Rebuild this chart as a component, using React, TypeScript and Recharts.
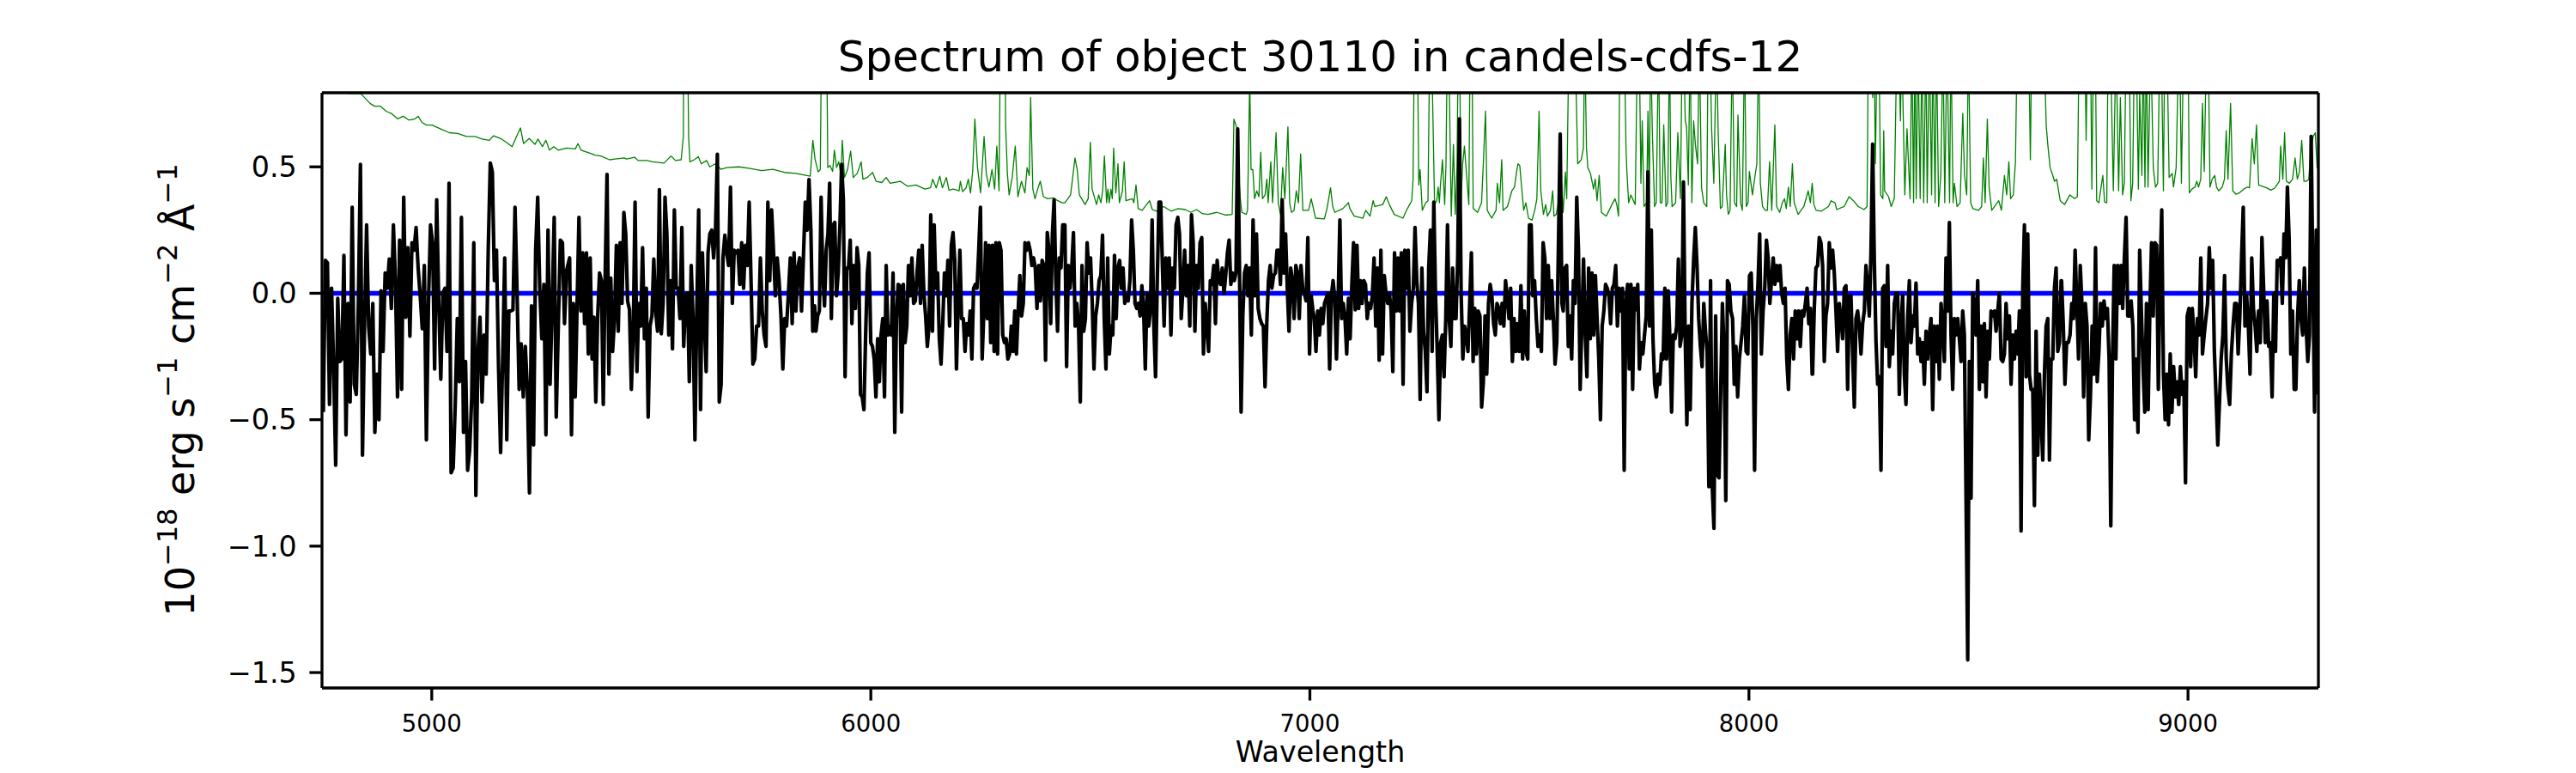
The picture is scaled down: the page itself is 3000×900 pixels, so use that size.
import { LineChart, Line, XAxis, YAxis } from "recharts";

const X_RANGE = [4750, 9297];
const Y_RANGE = [-1.561, 0.793];
const X_TICKS = [5000, 6000, 7000, 8000, 9000];
const Y_TICKS = [-1.5, -1.0, -0.5, 0.0, 0.5];

const FONT = "DejaVu Sans, Liberation Sans, sans-serif";

const FLUX_SPANS = [
  [4753, 5307],
  [5314, 5872],
  [5875, 6437],
  [6442, 7007],
  [7010, 7574],
  [7577, 8144],
  [8145, 8711],
  [8712, 9296],
];

const FLUX_A = [
  -0.47, 0.13, 0.12, -0.44, 0.02, -0.29, -0.68, -0.02, -0.27, -0.26, 0.15, -0.56, -0.04, -0.43, 0.34, -0.36,
  -0.4, -0.04, 0.51, -0.64, -0.13, 0.27, -0.13, -0.24, -0.04, -0.55, -0.32, -0.5, 0.01, -0.23, 0.08, 0.02,
  0.135, -0.06, 0.27, 0.05, -0.41, 0.21, -0.38, 0.38, -0.095, 0.18, -0.17, 0.2, 0.17, 0.26, 0.1, -0.01,
  -0.14, 0.11, -0.58, -0.04, 0.27, 0.2, -0.3, 0.37, -0.04, -0.34, 0.0, 0.02, -0.23, 0.435, -0.71, -0.69,
  -0.44, -0.1, -0.35, 0.3, -0.55, -0.27, -0.7, -0.62, -0.41, 0.2, -0.8, -0.24, -0.095, -0.43, -0.165, -0.32,
  0.17, 0.515, 0.48, 0.05, 0.17, -0.29, -0.63, -0.26, 0.14, -0.58, -0.07, -0.07, -0.065, 0.34, 0.0, -0.38,
  -0.2, -0.41, -0.21, -0.38, -0.79, -0.05, -0.6, 0.17, 0.38, 0.02, -0.18, 0.035, -0.56, 0.25, -0.36, -0.05,
  0.3, -0.49, -0.13, 0.21, 0.2, -0.12, 0.09,
];

const FLUX_B = [
  0.14, -0.56, -0.04, -0.41, -0.04, 0.3, -0.07, 0.16, -0.12, 0.16, -0.24, 0.14, -0.26, -0.095, -0.43, -0.09,
  0.08, 0.05, -0.44, 0.07, 0.47, -0.32, 0.06, -0.23, -0.1, 0.19, -0.15, 0.2, -0.04, 0.32, 0.235, -0.03,
  -0.065, -0.38, -0.165, 0.36, -0.31, -0.04, -0.13, 0.18, -0.18, 0.02, -0.49, -0.13, -0.09, 0.135, -0.07, -0.15,
  0.41, -0.16, -0.04, 0.38, 0.235, -0.165, 0.05, -0.22, 0.33, 0.02, 0.02, -0.1, 0.26, -0.21, -0.02, 0.0,
  -0.35, 0.11, -0.1, -0.58, -0.06, 0.33, -0.46, 0.16, -0.1, -0.31, 0.16, 0.235, 0.25, 0.14, 0.25, 0.55,
  -0.43, -0.36, 0.14, 0.23, 0.16, 0.11, 0.42, -0.04, 0.17, 0.16, 0.17, 0.035, 0.2, 0.02, 0.19, 0.11,
  0.36, 0.05, -0.28, -0.26, -0.13, -0.13, 0.14, -0.07, -0.165, -0.21, 0.36, 0.05, 0.33, 0.17, -0.01, 0.14,
  0.05, -0.09, -0.3, -0.1, -0.13, 0.0, 0.14, -0.12, 0.16, -0.07, 0.1, 0.14, -0.07, 0.14, 0.36, 0.25,
  0.45, 0.25, -0.15, -0.05,
];

const FLUX_C = [
  -0.15, -0.09, -0.07, 0.38, 0.08, -0.05, 0.17, 0.235, 0.435, -0.1, 0.27, 0.28, -0.01, 0.08, 0.27, 0.51,
  0.37, -0.33, 0.1, 0.1, 0.21, -0.12, 0.11, -0.06, 0.18, 0.11, -0.4, -0.41, -0.46, -0.165, 0.08, 0.16,
  -0.195, -0.21, -0.26, -0.41, -0.18, -0.35, -0.165, -0.1, -0.41, 0.11, -0.165, -0.13, -0.165, 0.08, -0.55, -0.1,
  0.035, 0.03, -0.47, 0.035, -0.195, -0.13, 0.11, -0.01, 0.14, -0.04, -0.03, 0.08, 0.17, -0.04, 0.19, 0.0,
  -0.09, -0.21, -0.13, 0.31, -0.15, 0.27, 0.02, 0.08, -0.18, -0.28, -0.12, 0.08, -0.01, 0.13, -0.13, 0.19,
  0.24, 0.13, -0.3, -0.04, 0.17, -0.1, -0.1, -0.23, -0.12, -0.165, -0.07, -0.26, 0.02, 0.035, 0.02, 0.17,
  0.34, -0.26, -0.07, 0.2, -0.1, 0.19, -0.195, 0.19, -0.23, 0.2, -0.24, 0.2, 0.17, -0.165, -0.195, -0.18,
  -0.26, -0.24, -0.13, -0.23, -0.07, -0.24, -0.07, 0.07, -0.09, -0.04, 0.2, 0.17, 0.2, 0.17, 0.11, 0.14,
  0.1, -0.06, 0.11, -0.03, 0.13, 0.11, -0.265, 0.24, 0.17, -0.12, 0.235, 0.37, 0.05, -0.15, 0.14, 0.1,
  0.27,
];

const FLUX_D = [
  0.27, -0.29, 0.11, 0.02, 0.1, 0.24, -0.13, -0.04, -0.13, -0.43, 0.11, -0.15, -0.1, 0.2, 0.08, 0.14,
  -0.04, -0.3, -0.09, -0.04, 0.05, 0.07, 0.23, -0.1, -0.3, 0.14, -0.24, -0.13, -0.165, 0.15, -0.1, 0.1,
  0.13, 0.02, 0.1, -0.04, -0.01, -0.03, 0.05, 0.29, 0.17, -0.04, -0.06, -0.04, -0.09, 0.03, -0.06, -0.3,
  0.0, -0.13, -0.065, 0.29, -0.13, -0.33, 0.05, 0.36, 0.36, 0.11, -0.13, 0.14, 0.02, 0.14, -0.165, 0.1,
  0.02, 0.27, 0.3, 0.235, -0.1, 0.02, 0.17, -0.01, 0.11, -0.13, 0.31, 0.2, -0.15, 0.11, 0.02, 0.2,
  0.22, -0.24, -0.04, -0.13, -0.23, 0.05, 0.035, 0.11, -0.12, 0.13, 0.05, 0.035, 0.1, 0.0, 0.07, 0.16,
  0.21, 0.035, 0.08, 0.05, 0.08, 0.65, 0.13, -0.47, -0.09, 0.08, 0.11, -0.01, 0.1, -0.165, 0.29, -0.01,
  0.235, -0.06, -0.1, -0.12, -0.13, -0.37, -0.12, 0.05, 0.11, 0.02, 0.07, 0.08, 0.17, 0.17, 0.035, 0.37,
  0.08, 0.235, 0.02, -0.15, 0.1, 0.05, -0.1, 0.11, 0.08, -0.1, 0.11, 0.02, 0.0, -0.03, 0.22, -0.24,
  -0.01, -0.07,
];

const FLUX_E = [
  -0.1, -0.23, -0.07, -0.165, -0.06, -0.12, -0.04, -0.02, 0.0, -0.3, -0.01, 0.05, -0.02, -0.26, -0.02, 0.29,
  -0.1, -0.04, -0.1, -0.24, -0.02, -0.18, 0.035, 0.2, -0.065, 0.19, -0.06, 0.05, -0.04, 0.05, 0.035, -0.1,
  -0.04, -0.06, -0.01, 0.14, -0.13, 0.1, -0.265, 0.17, -0.24, 0.07, 0.0, -0.04, 0.0, -0.07, -0.31, 0.16,
  -0.07, 0.14, -0.07, 0.16, -0.36, 0.17, 0.02, 0.17, -0.15, -0.04, 0.02, 0.26, 0.05, -0.04, -0.42, 0.1,
  -0.15, -0.23, -0.39, 0.1, 0.25, -0.23, 0.36, -0.01, -0.23, -0.5, -0.195, -0.165, -0.33, -0.1, 0.27, -0.1,
  -0.21, 0.1, -0.1, -0.1, 0.14, 0.69, 0.0, -0.26, -0.13, -0.165, -0.23, -0.04, 0.16, -0.27, -0.06, -0.24,
  -0.07, -0.09, -0.45, -0.35, -0.09, -0.32, -0.04, 0.035, -0.01, -0.12, -0.165, -0.04, -0.06, -0.12, -0.04, -0.13,
  0.05, -0.01, -0.1, 0.02, -0.27, -0.1, -0.23, -0.12, -0.23, 0.03, -0.26, -0.07, -0.23, -0.26, 0.27, 0.27,
  -0.01, 0.05, -0.1, -0.21, -0.165, -0.23, 0.2, 0.14, -0.1, 0.11, -0.1, 0.05, -0.1, -0.28, -0.195, 0.2,
  0.63, -0.04,
];

const FLUX_F = [
  -0.07, 0.1, 0.11, -0.21, -0.09, -0.26, 0.05, -0.04, 0.38, 0.17, -0.38, -0.12, 0.135, -0.165, -0.33, 0.1,
  -0.18, 0.08, -0.165, 0.07, -0.1, -0.26, -0.5, -0.13, -0.07, 0.035, 0.02, -0.01, -0.12, 0.02, 0.035, 0.11,
  -0.13, 0.02, -0.07, 0.02, -0.7, -0.04, 0.035, -0.3, 0.035, -0.38, 0.02, -0.065, 0.035, -0.3, -0.195, -0.24,
  -0.165, -0.09, 0.48, -0.13, 0.25, -0.18, -0.36, -0.41, -0.32, -0.36, -0.24, -0.26, 0.02, -0.26, 0.01, -0.18,
  -0.47, -0.165, -0.18, -0.13, 0.135, -0.21, -0.165, 0.44, -0.165, -0.52, -0.13, -0.46, -0.04, 0.13, 0.26, 0.11,
  -0.1, -0.21, -0.29, -0.04, -0.15, -0.23, -0.765, 0.05, -0.765, -0.93, -0.09, -0.72, -0.73, -0.38, -0.04, -0.23,
  -0.82, 0.05, 0.035, -0.07, -0.1, -0.36, -0.21, -0.41, -0.26, -0.195, -0.13, -0.01, -0.23, -0.24, 0.07, 0.08,
  -0.13, -0.7, -0.1, 0.035, 0.235, -0.24, -0.07, 0.02, 0.21, 0.14, -0.04, 0.05, 0.14, 0.035, 0.11, 0.05,
  0.11, 0.0, -0.04, 0.02, -0.26, -0.38, -0.165, -0.1, -0.26, -0.07, -0.18, -0.07, -0.21, -0.07, -0.09, -0.04,
  0.02, -0.12, -0.06, -0.32,
];

const FLUX_G = [
  -0.32, -0.06, 0.1, 0.11, 0.22, 0.2, 0.11, -0.27, -0.09, -0.04, 0.2, 0.1, 0.17, 0.08, -0.07, -0.23,
  -0.04, -0.1, -0.18, 0.02, 0.03, -0.38, -0.01, -0.01, -0.24, -0.45, -0.1, -0.07, -0.13, -0.24, -0.12, -0.07,
  0.11, 0.02, -0.09, 0.16, 0.59, 0.13, -0.19, -0.36, -0.33, -0.7, 0.02, 0.03, -0.21, 0.11, -0.29, -0.15,
  -0.24, -0.04, 0.0, 0.0, -0.4, -0.13, -0.01, -0.32, -0.44, -0.1, 0.05, -0.195, -0.09, -0.13, 0.04, -0.24,
  -0.18, -0.27, -0.195, -0.36, -0.15, -0.26, -0.165, -0.1, -0.46, -0.13, -0.27, -0.13, -0.34, -0.04, -0.13, -0.27,
  0.14, -0.07, 0.28, -0.165, -0.38, -0.1, -0.165, -0.1, -0.18, -0.27, -0.07, -0.165, -0.81, -1.45, -0.27, -0.81,
  0.0, -0.04, -0.165, 0.05, -0.38, -0.13, -0.35, -0.12, -0.41, -0.15, -0.26, -0.07, -0.09, -0.07, -0.15, -0.07,
  0.0, -0.26, -0.27, -0.24, -0.04, -0.18, -0.09, -0.36, -0.165, -0.26, -0.15, -0.24, -0.07, -0.94, 0.02, 0.27,
  -0.33, 0.235, -0.32, -0.38, -0.38, -0.84, -0.15, -0.64, -0.32, -0.49, -0.66, -0.32, -0.13, -0.1, -0.66, -0.26,
  -0.26, 0.02, 0.1, -0.23, -0.195, 0.05,
];

const FLUX_H = [
  0.05, -0.12, -0.36, -0.195, -0.195, -0.165, -0.04, -0.1, 0.17, -0.04, -0.26, 0.11, -0.04, -0.41, -0.04, -0.13,
  -0.58, -0.41, -0.13, -0.32, 0.18, -0.35, -0.23, -0.04, -0.13, -0.03, -0.1, -0.06, -0.26, -0.92, -0.26, 0.11,
  -0.26, 0.11, -0.04, 0.11, -0.06, 0.14, 0.3, -0.09, -0.09, -0.03, -0.13, -0.5, -0.26, -0.55, 0.17, -0.07,
  -0.29, -0.47, -0.04, -0.46, -0.07, 0.2, -0.09, 0.2, 0.19, -0.38, 0.08, 0.33, -0.32, -0.5, -0.32, -0.52,
  -0.24, -0.47, -0.29, -0.41, -0.35, -0.44, -0.29, -0.4, -0.35, -0.75, -0.09, -0.06, -0.29, -0.06, -0.165, -0.33,
  -0.1, -0.165, 0.14, -0.24, -0.165, -0.1, -0.04, 0.18, 0.02, 0.13, -0.23, -0.41, -0.6, -0.43, -0.26, -0.165,
  0.07, -0.26, -0.38, -0.44, -0.24, -0.13, -0.04, -0.04, -0.24, -0.09, 0.14, 0.34, -0.13, -0.01, -0.13, -0.32,
  0.14, -0.06, -0.13, -0.23, -0.07, -0.195, 0.22, 0.02, -0.195, -0.03, -0.21, -0.195, -0.41, 0.0, -0.23, 0.13,
  0.11, 0.14, -0.04, 0.235, 0.14, 0.42, 0.22, -0.24, -0.07, -0.38, -0.38, -0.09, 0.05, -0.1, -0.165, 0.1,
  -0.13, -0.27, -0.165, 0.62, 0.07, -0.47, 0.25, -0.4,
];

// error spectrum (green) as [wavelength, value] pairs; values above the top of the axes are clipped
const ERR_A = [
  [4750, 0.95], [4805, 0.85], [4811, 0.79], [4838, 0.79], [4860, 0.75], [4870, 0.74], [4883, 0.74], [4896, 0.72],
  [4909, 0.71], [4922, 0.69], [4935, 0.7], [4948, 0.685], [4962, 0.69], [4969, 0.7], [4978, 0.675], [4988, 0.665],
  [5001, 0.665], [5020, 0.65], [5040, 0.635], [5059, 0.632], [5079, 0.62], [5098, 0.62], [5115, 0.61], [5131, 0.605],
  [5141, 0.623], [5157, 0.612], [5170, 0.597], [5183, 0.58], [5193, 0.62], [5202, 0.654], [5209, 0.592], [5222, 0.612],
  [5235, 0.589], [5242, 0.61], [5252, 0.58], [5260, 0.605], [5268, 0.566], [5278, 0.58], [5288, 0.566], [5307, 0.574],
];

const ERR_B = [
  [5327, 0.571], [5333, 0.592], [5340, 0.566], [5359, 0.555], [5372, 0.546], [5385, 0.543], [5405, 0.528], [5418, 0.531],
  [5438, 0.535], [5444, 0.531], [5462, 0.538], [5470, 0.525], [5490, 0.525], [5503, 0.52], [5529, 0.515], [5545, 0.543],
  [5555, 0.525], [5568, 0.528], [5573, 0.62], [5575, 1.3], [5581, 1.3], [5585, 0.62], [5588, 0.52], [5598, 0.528],
  [5607, 0.54], [5614, 0.512], [5626, 0.525], [5633, 0.5], [5646, 0.512], [5659, 0.49], [5672, 0.497], [5699, 0.5],
  [5725, 0.494], [5751, 0.485], [5777, 0.49], [5803, 0.478], [5829, 0.474], [5862, 0.463], [5868, 0.605], [5873, 0.53],
  [5880, 0.48], [5885, 0.49],
];

const ERR_C = [
  [5889, 1.3], [5898, 1.3], [5902, 0.497], [5907, 0.505], [5913, 0.482], [5917, 0.566], [5922, 0.497], [5927, 0.52],
  [5932, 0.466], [5935, 0.605], [5940, 0.458], [5947, 0.489], [5954, 0.562], [5960, 0.458], [5969, 0.474], [5978, 0.52],
  [5982, 0.451], [5992, 0.458], [6004, 0.478], [6012, 0.443], [6025, 0.438], [6035, 0.458], [6044, 0.435], [6067, 0.443],
  [6084, 0.423], [6103, 0.428], [6123, 0.412], [6136, 0.417], [6141, 0.451], [6149, 0.417], [6157, 0.463], [6163, 0.417],
  [6172, 0.458], [6178, 0.408], [6188, 0.412], [6201, 0.405], [6204, 0.443], [6209, 0.402], [6217, 0.417], [6222, 0.451],
  [6227, 0.397], [6232, 0.482], [6237, 0.689], [6243, 0.497], [6250, 0.397], [6258, 0.62], [6263, 0.474], [6269, 0.42],
  [6276, 0.489], [6282, 0.412], [6287, 0.582], [6292, 0.405], [6297, 1.4], [6304, 1.4], [6307, 0.666], [6311, 0.474],
  [6315, 0.389], [6322, 0.458], [6329, 0.582], [6335, 0.382], [6343, 0.443], [6351, 0.397], [6356, 0.497], [6361, 0.466],
  [6364, 0.774], [6369, 0.412], [6374, 0.374], [6380, 0.412], [6386, 0.443], [6393, 0.382], [6403, 0.374], [6416, 0.377],
  [6426, 0.366], [6436, 0.358],
];

const ERR_D = [
  [6442, 0.358], [6455, 0.389], [6465, 0.535], [6470, 0.489], [6475, 0.389], [6488, 0.351], [6495, 0.374], [6500, 0.597],
  [6504, 0.412], [6514, 0.351], [6519, 0.389], [6524, 0.358], [6528, 0.405], [6532, 0.543], [6537, 0.358], [6540, 0.412],
  [6543, 0.358], [6547, 0.412], [6550, 0.374], [6553, 0.574], [6558, 0.397], [6563, 0.512], [6566, 0.358], [6573, 0.405],
  [6577, 0.52], [6581, 0.366], [6596, 0.374], [6599, 0.358], [6604, 0.428], [6609, 0.335], [6618, 0.328], [6635, 0.366],
  [6641, 0.331], [6651, 0.325], [6667, 0.343], [6684, 0.325], [6700, 0.335], [6716, 0.331], [6729, 0.32], [6742, 0.331],
  [6755, 0.315], [6768, 0.312], [6788, 0.32], [6808, 0.309], [6823, 0.312], [6827, 0.689], [6834, 0.651], [6837, 0.489],
  [6842, 0.366], [6845, 0.32], [6855, 0.312], [6858, 0.328], [6863, 0.85], [6866, 0.489], [6870, 0.489], [6874, 0.374],
  [6879, 0.405], [6884, 0.382], [6888, 0.558], [6892, 0.374], [6898, 0.389], [6902, 0.451], [6905, 0.358], [6911, 0.52],
  [6915, 0.358], [6923, 0.635], [6928, 0.358], [6933, 0.312], [6938, 0.497], [6943, 0.374], [6950, 0.658], [6954, 0.358],
  [6958, 0.32], [6964, 0.328], [6969, 0.405], [6974, 0.358], [6979, 0.551], [6984, 0.328], [6997, 0.328], [7003, 0.374],
  [7007, 0.343],
];

const ERR_E = [
  [7013, 0.297], [7033, 0.294], [7039, 0.335], [7047, 0.417], [7052, 0.343], [7057, 0.32], [7075, 0.335], [7088, 0.358],
  [7091, 0.335], [7101, 0.305], [7121, 0.297], [7127, 0.328], [7137, 0.305], [7144, 0.366], [7148, 0.343], [7166, 0.351],
  [7174, 0.382], [7181, 0.351], [7192, 0.312], [7212, 0.297], [7220, 0.328], [7232, 0.366], [7235, 0.451], [7238, 1.0],
  [7245, 1.0], [7248, 0.428], [7251, 0.489], [7256, 0.328], [7264, 0.358], [7269, 0.366], [7273, 1.0], [7277, 1.0],
  [7281, 0.628], [7284, 0.351], [7289, 0.366], [7292, 0.42], [7295, 0.358], [7297, 0.42], [7302, 0.528], [7307, 0.351],
  [7310, 0.512], [7313, 1.0], [7316, 1.0], [7322, 0.305], [7327, 0.589], [7331, 0.312], [7335, 0.497], [7338, 1.0],
  [7341, 1.0], [7344, 0.358], [7348, 0.512], [7352, 0.582], [7355, 0.512], [7362, 0.351], [7365, 1.0], [7369, 1.0],
  [7372, 0.335], [7382, 0.32], [7391, 0.358], [7395, 0.512], [7400, 0.72], [7404, 0.328], [7414, 0.297], [7424, 0.328],
  [7427, 0.435], [7432, 0.358], [7437, 0.528], [7440, 0.328], [7450, 0.343], [7460, 0.405], [7466, 0.42], [7471, 0.482],
  [7474, 0.512], [7478, 0.505], [7483, 0.405], [7487, 0.328], [7492, 0.358], [7498, 0.297], [7506, 0.289], [7513, 0.335],
  [7517, 0.374], [7522, 0.72], [7526, 0.405], [7532, 0.312], [7537, 0.351], [7541, 0.305], [7548, 0.328], [7553, 0.405],
  [7556, 0.305], [7561, 0.312], [7567, 0.366], [7572, 0.466],
];

const ERR_F = [
  [7577, 0.32], [7582, 0.48], [7585, 0.374], [7590, 1.0], [7604, 1.0], [7610, 0.512], [7618, 0.528], [7623, 0.574],
  [7626, 1.0], [7630, 0.574], [7633, 0.497], [7639, 0.474], [7646, 0.412], [7650, 0.451], [7654, 0.366], [7659, 0.466],
  [7664, 0.32], [7675, 0.305], [7688, 0.351], [7695, 0.374], [7699, 0.351], [7703, 0.305], [7706, 1.0], [7716, 1.0],
  [7720, 0.574], [7722, 0.482], [7726, 0.358], [7731, 0.389], [7741, 0.351], [7746, 1.0], [7750, 1.0], [7754, 0.435],
  [7757, 0.682], [7761, 0.343], [7767, 0.358], [7770, 0.72], [7773, 0.358], [7776, 1.0], [7780, 0.635], [7785, 0.343],
  [7789, 0.358], [7794, 1.0], [7798, 0.358], [7802, 0.358], [7806, 0.666], [7811, 0.343], [7815, 0.358], [7819, 1.0],
  [7822, 0.466], [7825, 0.343], [7833, 0.358], [7838, 0.635], [7844, 0.374], [7848, 1.0], [7851, 1.0], [7855, 0.682],
  [7858, 0.658], [7862, 0.428], [7866, 1.0], [7870, 0.358], [7874, 0.682], [7878, 0.589], [7883, 0.512], [7887, 1.0],
  [7892, 0.42], [7897, 0.358], [7904, 0.343], [7907, 1.0], [7911, 1.0], [7915, 0.651], [7920, 0.435], [7926, 1.0],
  [7930, 0.635], [7935, 0.335], [7939, 0.343], [7946, 0.589], [7949, 0.389], [7953, 0.312], [7957, 0.328], [7962, 1.0],
  [7967, 0.358], [7972, 0.343], [7975, 0.705], [7981, 0.358], [7985, 0.328], [7990, 1.0], [7994, 0.343], [7998, 0.358],
  [8001, 0.482], [8008, 0.389], [8014, 0.466], [8018, 0.512], [8022, 1.0], [8026, 0.435], [8031, 0.343], [8037, 0.328],
  [8042, 0.328], [8047, 0.52], [8052, 0.328], [8059, 0.666], [8063, 0.343], [8070, 0.32], [8076, 0.358], [8081, 0.374],
  [8085, 0.335], [8090, 0.42], [8094, 0.343], [8099, 0.512], [8103, 0.358], [8112, 0.312], [8125, 0.343], [8135, 0.405],
  [8140, 0.358], [8144, 0.435], [8148, 0.351],
];

const ERR_G = [
  [8153, 0.328], [8165, 0.325], [8181, 0.343], [8187, 0.366], [8196, 0.358], [8200, 0.331], [8217, 0.343], [8228, 0.382],
  [8238, 0.366], [8249, 0.343], [8262, 0.331], [8269, 0.343], [8272, 1.0], [8279, 1.0], [8282, 0.774], [8285, 1.0],
  [8288, 0.512], [8292, 1.0], [8296, 1.0], [8300, 0.389], [8305, 0.374], [8307, 0.643], [8309, 0.405], [8318, 0.382],
  [8324, 0.343], [8331, 0.374], [8337, 1.0], [8341, 1.0], [8345, 0.682], [8348, 1.0], [8355, 0.389], [8360, 0.651],
  [8367, 0.374], [8371, 1.0], [8375, 0.358], [8378, 1.0], [8381, 0.374], [8385, 1.0], [8390, 0.374], [8394, 1.0],
  [8398, 0.358], [8403, 1.0], [8406, 0.358], [8411, 1.0], [8416, 0.389], [8419, 1.0], [8424, 0.358], [8427, 1.0],
  [8432, 0.343], [8437, 0.466], [8442, 1.0], [8446, 0.358], [8451, 1.0], [8457, 0.358], [8460, 1.0], [8465, 0.358],
  [8468, 0.435], [8474, 0.343], [8481, 0.358], [8487, 0.712], [8491, 0.466], [8496, 0.389], [8500, 1.0], [8505, 0.358],
  [8510, 0.335], [8523, 0.328], [8530, 0.343], [8534, 0.535], [8538, 0.358], [8543, 0.689], [8547, 0.42], [8553, 0.328],
  [8569, 0.366], [8575, 0.328], [8582, 0.466], [8587, 0.389], [8592, 0.52], [8596, 0.374], [8602, 0.389], [8607, 0.52],
  [8611, 1.0], [8637, 1.0], [8641, 0.528], [8644, 1.0], [8672, 1.0], [8677, 0.666], [8681, 0.582], [8686, 0.497],
  [8692, 0.466], [8696, 0.443], [8701, 0.451], [8706, 0.397], [8709, 0.366], [8714, 0.358],
];

const ERR_H = [
  [8719, 0.351], [8731, 0.389], [8742, 0.374], [8748, 0.382], [8752, 1.0], [8765, 1.0], [8768, 0.605], [8771, 1.0],
  [8778, 1.0], [8781, 0.412], [8785, 1.0], [8789, 1.0], [8792, 0.366], [8797, 0.358], [8802, 0.42], [8806, 0.466],
  [8810, 0.361], [8815, 0.358], [8818, 1.0], [8823, 1.0], [8830, 0.405], [8836, 1.0], [8842, 0.405], [8846, 0.774],
  [8851, 0.389], [8855, 0.435], [8859, 1.0], [8866, 1.0], [8870, 0.366], [8874, 0.435], [8878, 1.0], [8882, 1.0],
  [8887, 0.412], [8890, 0.79], [8895, 0.466], [8898, 1.0], [8902, 0.42], [8905, 1.0], [8909, 0.42], [8915, 1.0],
  [8921, 0.497], [8926, 0.42], [8931, 0.435], [8936, 1.0], [8939, 1.0], [8944, 0.405], [8947, 1.0], [8952, 1.0],
  [8957, 0.458], [8964, 0.474], [8967, 0.42], [8973, 0.497], [8979, 1.0], [8981, 1.0], [8985, 0.435], [8990, 1.0],
  [9000, 1.0], [9003, 0.397], [9009, 0.412], [9016, 0.42], [9020, 0.443], [9024, 0.42], [9029, 0.451], [9033, 0.751],
  [9037, 0.482], [9042, 1.0], [9046, 1.0], [9050, 0.42], [9055, 0.451], [9061, 0.466], [9065, 0.42], [9070, 0.405],
  [9078, 0.42], [9083, 0.451], [9087, 0.643], [9091, 0.451], [9097, 0.751], [9102, 0.405], [9109, 0.392], [9117, 0.397],
  [9127, 0.412], [9135, 0.42], [9140, 0.417], [9146, 0.612], [9151, 0.512], [9156, 0.666], [9161, 0.428], [9169, 0.423],
  [9179, 0.417], [9189, 0.408], [9198, 0.417], [9208, 0.443], [9211, 0.582], [9216, 0.451], [9220, 0.635], [9224, 0.443],
  [9231, 0.435], [9238, 0.451], [9244, 0.535], [9249, 0.451], [9254, 0.482], [9259, 0.605], [9264, 0.443], [9270, 0.443],
  [9275, 0.451], [9280, 0.574], [9285, 0.62], [9290, 0.635], [9294, 0.497], [9297, 0.49],
];

// model (blue), flat at zero across the whole range
const MODEL = [
  [4750, 0],
  [9297, 0],
];

const FLUX_SEGMENTS = [FLUX_A, FLUX_B, FLUX_C, FLUX_D, FLUX_E, FLUX_F, FLUX_G, FLUX_H];

const fluxRows = FLUX_SEGMENTS.flatMap((vals, k) => {
  const [a, b] = FLUX_SPANS[k];
  return vals.map((v, i) => ({ wave: a + (i * (b - a)) / (vals.length - 1), value: v }));
});

const errRows = [...ERR_A, ...ERR_B, ...ERR_C, ...ERR_D, ...ERR_E, ...ERR_F, ...ERR_G, ...ERR_H].map(
  ([w, v]) => ({ wave: w, value: v })
);

const modelRows = MODEL.map(([w, v]) => ({ wave: w, value: v }));

const fmtY = (v: number) => v.toFixed(1).replace("-", "\u2212");

const AXIS_LINE = { stroke: "#000", strokeWidth: 3.3 };

export default function App() {
  return (
    <div style={{ position: "absolute", left: 0, top: 0, width: 3000, height: 900, background: "#fff" }}>
      <LineChart width={3000} height={900} margin={{ top: 107, right: 299, bottom: 0, left: 0 }}>
        <XAxis
          xAxisId="b"
          type="number"
          dataKey="wave"
          domain={X_RANGE}
          allowDataOverflow
          ticks={X_TICKS}
          height={99}
          tickSize={14.6}
          tickMargin={17}
          axisLine={AXIS_LINE}
          tickLine={AXIS_LINE}
          tick={{ fontSize: 27.5, fill: "#000", fontFamily: FONT }}
        />
        <XAxis
          xAxisId="t"
          orientation="top"
          type="number"
          dataKey="wave"
          domain={X_RANGE}
          height={1}
          tick={false}
          tickLine={false}
          axisLine={AXIS_LINE}
        />
        <YAxis
          yAxisId="l"
          type="number"
          domain={Y_RANGE}
          allowDataOverflow
          ticks={Y_TICKS}
          width={375}
          tickSize={14.6}
          tickMargin={14.6}
          tickFormatter={fmtY}
          axisLine={AXIS_LINE}
          tickLine={AXIS_LINE}
          tick={{ fontSize: 33.3, fill: "#000", fontFamily: FONT }}
        />
        <YAxis
          yAxisId="r"
          orientation="right"
          type="number"
          domain={Y_RANGE}
          width={1}
          tick={false}
          tickLine={false}
          axisLine={AXIS_LINE}
        />
        <Line
          xAxisId="b"
          yAxisId="l"
          data={modelRows}
          dataKey="value"
          stroke="#0000ff"
          strokeWidth={5.5}
          dot={false}
          isAnimationActive={false}
        />
        <Line
          xAxisId="b"
          yAxisId="l"
          data={errRows}
          dataKey="value"
          stroke="#008000"
          strokeWidth={1.3}
          strokeLinejoin="round"
          dot={false}
          isAnimationActive={false}
        />
        <Line
          xAxisId="b"
          yAxisId="l"
          data={fluxRows}
          dataKey="value"
          stroke="#000"
          strokeWidth={4.2}
          strokeLinejoin="round"
          dot={false}
          isAnimationActive={false}
        />
      </LineChart>
      <svg
        width={3000}
        height={900}
        style={{ position: "absolute", left: 0, top: 0, pointerEvents: "none" }}
        fontFamily={FONT}
      >
        <text x={1537.5} y={83} textAnchor="middle" fontSize={50} fill="#000">
          Spectrum of object 30110 in candels-cdfs-12
        </text>
        <text x={1537.5} y={887} textAnchor="middle" fontSize={33.3} fill="#000">
          Wavelength
        </text>
        <text transform="translate(226, 454) rotate(-90)" textAnchor="middle" fontSize={46} fill="#000">
          10
          <tspan fontSize={32} dy={-20}>
            {"\u221218"}
          </tspan>
          <tspan dy={20}>{"\u00a0erg s"}</tspan>
          <tspan fontSize={32} dy={-20}>
            {"\u22121"}
          </tspan>
          <tspan dy={20}>{"\u00a0cm"}</tspan>
          <tspan fontSize={32} dy={-20}>
            {"\u22122"}
          </tspan>
          <tspan dy={20}>{"\u00a0Å"}</tspan>
          <tspan fontSize={32} dy={-20}>
            {"\u22121"}
          </tspan>
        </text>
      </svg>
    </div>
  );
}
